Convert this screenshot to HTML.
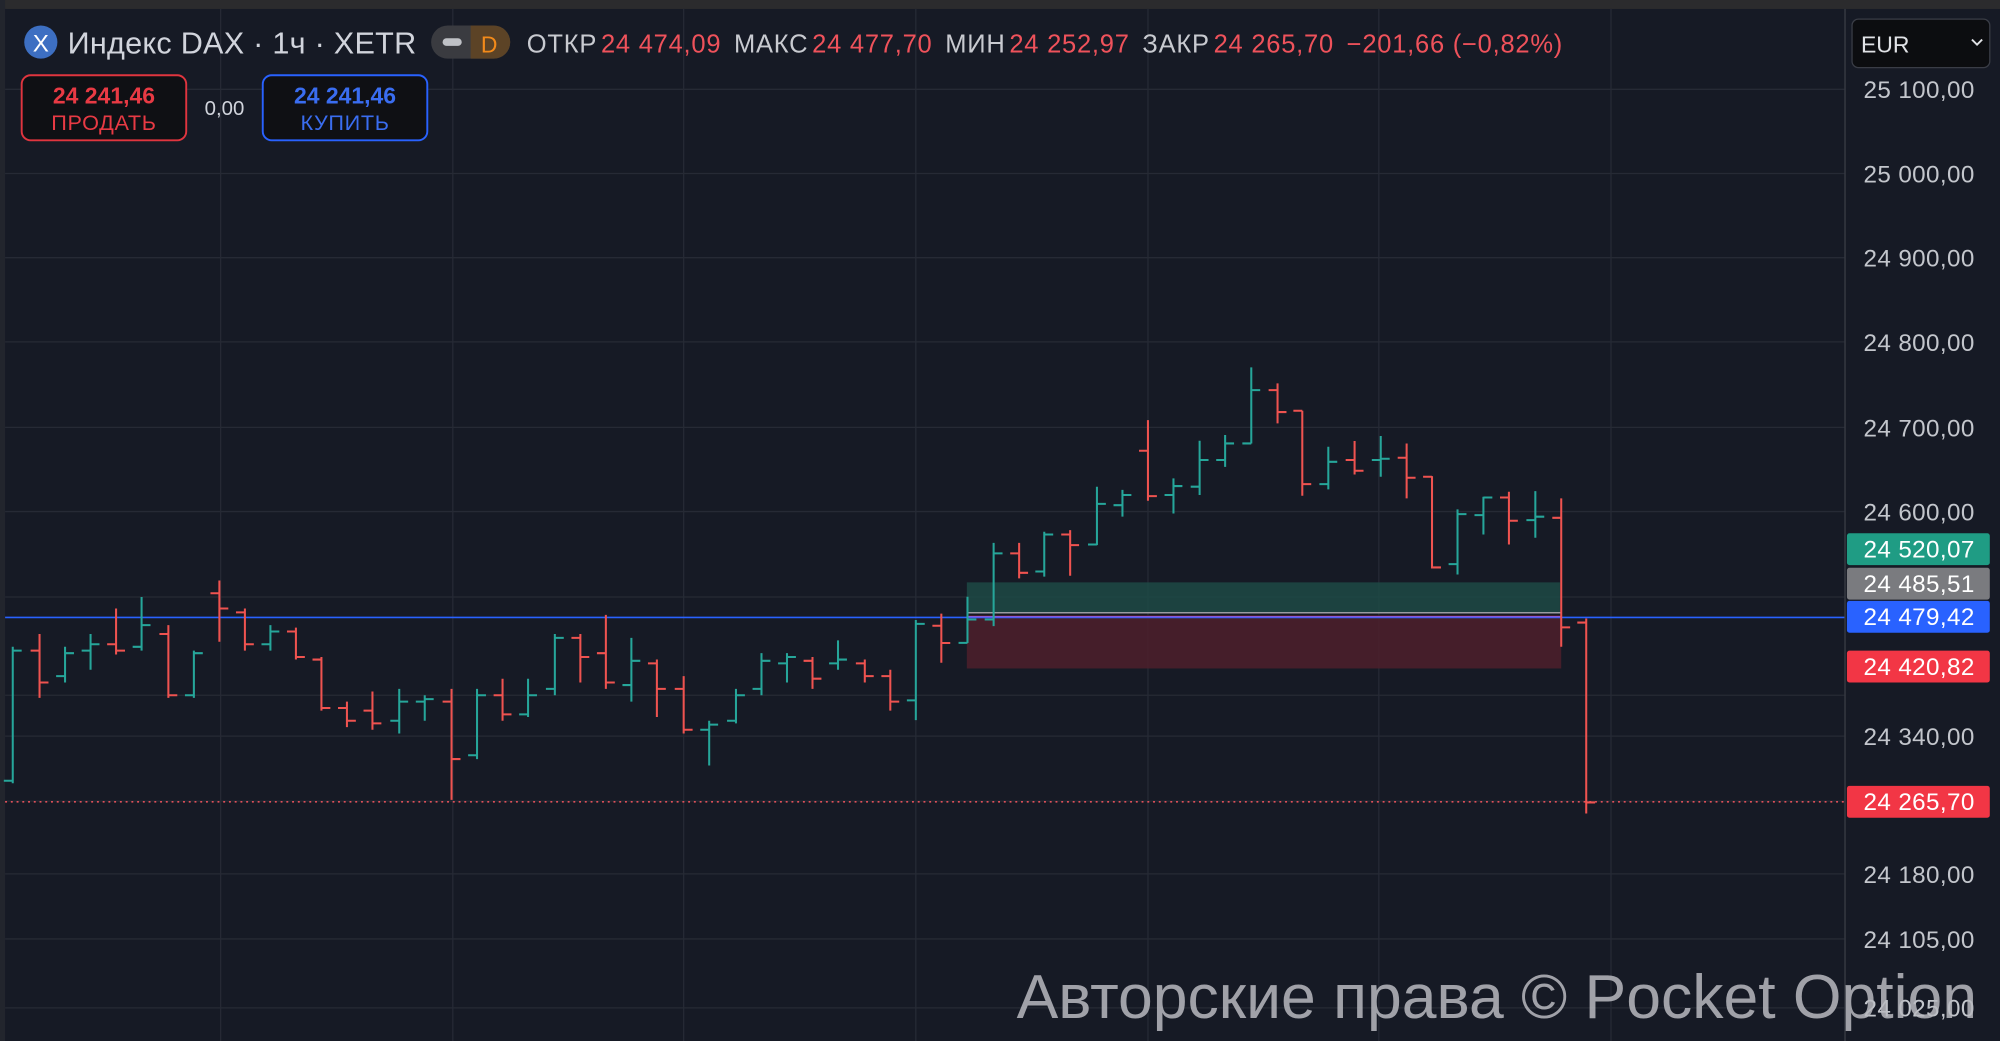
<!DOCTYPE html>
<html><head><meta charset="utf-8">
<style>
html,body{margin:0;padding:0;background:#161a25;}
svg{display:block;}
text{font-family:"Liberation Sans","DejaVu Sans",sans-serif;}
</style></head>
<body>
<svg id="s" width="2000" height="1041" viewBox="0 0 1568 816" preserveAspectRatio="none" xmlns="http://www.w3.org/2000/svg">
<rect x="0" y="0" width="1568" height="816" fill="#161a25"/>
<rect x="0" y="0" width="1568" height="7" fill="#2b2b2d"/>
<rect x="0" y="0" width="4" height="816" fill="#22252d"/>
<g id="grid" stroke="#262a35" stroke-width="1"></g>
<line x1="1446.5" y1="7" x2="1446.5" y2="816" stroke="#3a3d46" stroke-width="1"/>
<rect x="758" y="456.5" width="465" height="24.4" fill="#1d4a45" fill-opacity="0.85"/>
<rect x="758" y="482.2" width="466" height="41.8" fill="#4a1f2b" fill-opacity="0.9"/>
<line x1="758" y1="480.3" x2="1224" y2="480.3" stroke="#9a9ca2" stroke-width="1.2"/>
<line x1="4" y1="484" x2="1446" y2="484" stroke="#2962ff" stroke-width="1.3"/>
<line x1="758" y1="483.4" x2="1224" y2="483.4" stroke="#8a5ad8" stroke-width="1"/>
<line x1="4" y1="628.5" x2="1446" y2="628.5" stroke="#e0515a" stroke-width="1.2" stroke-dasharray="1.5 3"/>
<g id="bars" stroke-width="1.6" fill="none"></g>
<circle cx="32" cy="33" r="13" fill="#3d6fc2"/>
<text x="32" y="40.5" font-size="19" fill="#fff" text-anchor="middle">X</text>
<text x="53" y="42" font-size="24" fill="#d1d4dc" letter-spacing="0.2">Индекс DAX · 1ч · XETR</text>
<rect x="338" y="20" width="62" height="26" rx="13" fill="#3a3b40"/>
<path d="M369 20 H387 A13 13 0 0 1 387 46 H369 Z" fill="#5c4326"/>
<rect x="347" y="30" width="15" height="6" rx="3" fill="#bfc1c6"/>
<text x="383.5" y="41" font-size="18" fill="#f28a1a" text-anchor="middle">D</text>
<text x="413" y="41" font-size="20" fill="#c8cad0" letter-spacing="0.6">ОТКР<tspan fill="#ef525b" dx="3">24 474,09</tspan><tspan dx="10">МАКС</tspan><tspan fill="#ef525b" dx="3">24 477,70</tspan><tspan dx="10">МИН</tspan><tspan fill="#ef525b" dx="3">24 252,97</tspan><tspan dx="10">ЗАКР</tspan><tspan fill="#ef525b" dx="3">24 265,70</tspan><tspan fill="#ef525b" dx="10">−201,66 (−0,82%)</tspan></text>
<rect x="17" y="59" width="129" height="51" rx="7" fill="#0f1014" stroke="#e0353f" stroke-width="1.5"/>
<text x="81.5" y="81" font-size="18" font-weight="bold" fill="#e83a44" text-anchor="middle">24 241,46</text>
<text x="81.5" y="102" font-size="17" fill="#e83a44" text-anchor="middle" letter-spacing="0.5">ПРОДАТЬ</text>
<text x="176" y="90" font-size="16" fill="#d1d4dc" text-anchor="middle">0,00</text>
<rect x="206" y="59" width="129" height="51" rx="7" fill="#0f1014" stroke="#2962ff" stroke-width="1.5"/>
<text x="270.5" y="81" font-size="18" font-weight="bold" fill="#3a6df0" text-anchor="middle">24 241,46</text>
<text x="270.5" y="102" font-size="17" fill="#3a6df0" text-anchor="middle" letter-spacing="0.5">КУПИТЬ</text>
<rect x="1452" y="15" width="108" height="38" rx="5" fill="#0c0d10" stroke="#3a3d46"/>
<text x="1459" y="41" font-size="18" fill="#e0e2e6">EUR</text>
<path d="M1546 31 l4 4 l4 -4" stroke="#e0e2e6" stroke-width="1.5" fill="none"/>
<g font-size="19" fill="#c3c6cc" letter-spacing="0.3">
<text x="1461" y="77">25 100,00</text>
<text x="1461" y="143">25 000,00</text>
<text x="1461" y="209">24 900,00</text>
<text x="1461" y="275">24 800,00</text>
<text x="1461" y="342">24 700,00</text>
<text x="1461" y="408">24 600,00</text>
<text x="1461" y="584">24 340,00</text>
<text x="1461" y="692">24 180,00</text>
<text x="1461" y="743">24 105,00</text>
<text x="1461" y="797">24 025,00</text>
</g>
<g font-size="19" fill="#fff" letter-spacing="0.3">
<rect x="1448" y="418" width="112" height="25" rx="2" fill="#1f9c84"/>
<text x="1461" y="437">24 520,07</text>
<rect x="1448" y="445" width="112" height="25" rx="2" fill="#7a7b7f"/>
<text x="1461" y="464">24 485,51</text>
<rect x="1448" y="471" width="112" height="25" rx="2" fill="#2962ff"/>
<text x="1461" y="490">24 479,42</text>
<rect x="1448" y="510" width="112" height="25" rx="2" fill="#f23645"/>
<text x="1461" y="529">24 420,82</text>
<rect x="1448" y="616" width="112" height="25" rx="2" fill="#f23645"/>
<text x="1461" y="635">24 265,70</text>
</g>
<text x="797" y="798" font-size="49" fill="#b8babf" fill-opacity="0.85">Авторские права © Pocket Option</text>
</svg>
<script>
var NS="http://www.w3.org/2000/svg";
var g=document.getElementById('grid');
[70,136,202,268,335,401,468,545,577,628,685,736,790].forEach(function(y){var l=document.createElementNS(NS,'line');l.setAttribute('x1',4);l.setAttribute('x2',1446);l.setAttribute('y1',y);l.setAttribute('y2',y);g.appendChild(l);});
[173,355,536,718,900,1081,1263].forEach(function(x){var l=document.createElementNS(NS,'line');l.setAttribute('x1',x);l.setAttribute('x2',x);l.setAttribute('y1',7);l.setAttribute('y2',816);g.appendChild(l);});
var B=[
[10,612,507,614,510],[31,510,497,547,535],[51,530,507,535,512],[71,510,497,525,505],[91,505,477,513,510],[111,507,468,510,490],
[132,497,490,547,545],[152,545,510,547,512],[172,465,455,503,477],[192,480,477,510,505],[212,505,490,510,495],[232,495,492,517,515],
[252,517,515,557,555],[272,555,550,570,565],[292,557,542,572,567],[313,565,540,575,550],[333,550,545,565,548],[354,550,540,627,595],
[374,592,540,595,545],[394,545,532,565,560],[414,560,532,562,545],[435,540,497,545,500],[455,500,497,535,515],[475,512,482,540,535],
[495,537,500,550,518],[515,520,517,562,540],[536,540,530,575,572],[556,572,565,600,568],[577,565,540,567,545],[597,540,512,545,518],
[617,520,512,535,515],[637,518,515,540,532],[657,520,502,525,517],[678,520,517,535,530],[698,530,525,557,550],
[718,549,486,564.5,489],[738,490.5,481,519.5,504],[758.5,503.9,467.8,504,485.6],[779,485.6,425.5,490.8,433.8],[799,433.8,425.5,453.4,449],
[818.7,448,416.8,452,419],[839,419,415.5,451.3,427.3],[860,426.8,381.5,427.3,395],[880,396,384,405,388],[900,353.3,329.3,392.5,388.9],
[920,388,375,402.5,381],[940.5,381.5,345.5,388,360.6],[960.5,360.6,341,366,347.6],[981,347.6,288,347.6,305.8],[1001.6,305.8,300.5,331.9,323],
[1021,322,322,388.6,379.5],[1041.4,379.5,350.2,383.6,362],[1062,360.6,345.7,371.9,369],[1082.5,360.6,341.8,373.7,359.6],[1102.8,358.8,347.6,390.7,374.5],
[1122.7,373.7,373.2,445.6,444.8],[1142.7,442.2,399.3,450.3,403],[1163,403.8,389.4,419,390],[1183,390,385.5,426.8,408.2],[1203.7,407.7,385,421.5,405],
[1224,405.9,390.7,507,491.8],[1243.6,488,484.8,637.7,629]];
var bg=document.getElementById('bars');
B.forEach(function(b){var x=b[0],o=b[1],h=b[2],l=b[3],c=b[4];var col=c<=o?'#26a69a':'#ef5350';
var p=document.createElementNS(NS,'path');p.setAttribute('d','M'+x+' '+h+'V'+l+'M'+(x-7)+' '+o+'H'+x+'M'+x+' '+c+'H'+(x+7));p.setAttribute('stroke',col);bg.appendChild(p);});
</script>
</body></html>
